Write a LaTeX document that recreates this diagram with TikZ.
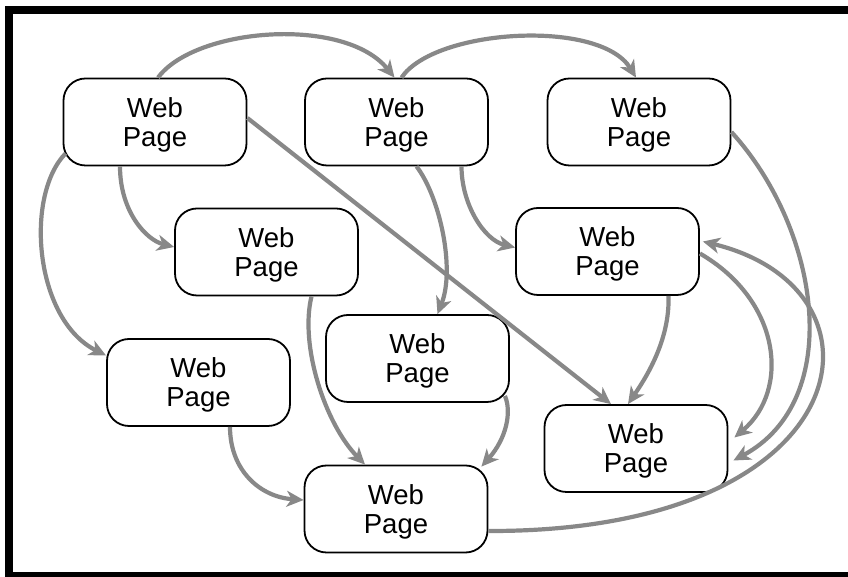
\documentclass[tikz,border=0pt]{standalone}
\usepackage{fontspec}
\setmainfont{Liberation Sans}
\usetikzlibrary{arrows.meta,backgrounds}
\definecolor{linkgray}{RGB}{136,136,136}
\begin{document}
\begin{tikzpicture}[x=1pt,y=1pt,
  page/.style={draw=black, fill=white, line width=1.8pt, rounded corners=22pt,
    minimum width=183pt, minimum height=87pt, inner sep=0pt, align=center,
    font=\fontsize{27.5}{29}\selectfont, text depth=0pt},
  link/.style={draw=linkgray, line width=4.2pt,
    -{Stealth[length=17pt,width=16pt,inset=5pt]}},
  frame/.style={fill=black, draw=none}]
\useasboundingbox (0,0) rectangle (848,577);
% frame
\fill[frame] (5,563) rectangle (848,571);
\fill[frame] (5,0) rectangle (13,571);
\fill[frame] (5,0) rectangle (848,5);
% pages
\node[page] (n1) at (155,455) {Web\\Page};
\node[page] (n2) at (396.5,455) {Web\\Page};
\node[page] (n3) at (639,455) {Web\\Page};
\node[page] (n4) at (266.5,325) {Web\\Page};
\node[page] (n5) at (607.5,325.5) {Web\\Page};
\node[page] (n6) at (198.5,194.5) {Web\\Page};
\node[page] (n7) at (417.5,218.5) {Web\\Page};
\node[page] (n8) at (636,128.5) {Web\\Page};
\node[page] (n9) at (396,68) {Web\\Page};
% links
\draw[link] ([xshift=3pt]n1.north) .. controls +(37,50) and +(-50,62) .. ([xshift=-2pt]n2.north);
\draw[link] ([xshift=5pt]n2.north) .. controls +(33,49) and +(-36,59) .. ([xshift=-3pt]n3.north);
\draw[link] ([yshift=4pt]n1.east) -- ([xshift=-25pt]n8.north);
\draw[link] ([xshift=-35pt]n1.south) .. controls +(0,-45) and +(-28,7) .. ([yshift=5pt]n4.west);
\draw[link] ([xshift=3pt,yshift=13pt]n1.south west) .. controls +(-41,-42) and +(-72,36) .. ([yshift=27pt]n6.west);
\draw[link] ([xshift=45pt]n4.south) .. controls +(-12,-49) and +(-40,41) .. ([xshift=-31pt]n9.north);
\draw[link] ([xshift=31.5pt]n6.south) .. controls +(0,-44) and +(-43,3) .. ([yshift=9pt]n9.west);
\draw[link] ([xshift=20pt]n2.south) .. controls +(23,-30) and +(18,46) .. ([xshift=20pt]n7.north);
\draw[link] ([xshift=65pt]n2.south) .. controls +(0,-38) and +(-31,7.5) .. ([yshift=4pt]n5.west);
\draw[link] ([xshift=-5pt,yshift=7pt]n7.south east) .. controls +(7,-16) and +(25,28) .. ([xshift=-7pt,yshift=-2pt]n9.north east);
\draw[link] ([xshift=61pt]n5.south) .. controls +(1.5,-45) and +(17,25) .. ([xshift=-8pt]n8.north);
\draw[link] ([yshift=-10pt]n3.east) .. controls +(89,-98) and +(112,60) .. ([xshift=5pt,yshift=-12pt]n8.east);
\draw[link] ([yshift=-2pt]n5.east) .. controls +(81,-47) and +(56,47.5) .. ([xshift=6pt,yshift=11pt]n8.east);
\draw[link] ([yshift=-22pt]n9.east) .. controls +(373,-1) and +(198,-48) .. ([xshift=3pt,yshift=10pt]n5.east);
\end{tikzpicture}
\end{document}
